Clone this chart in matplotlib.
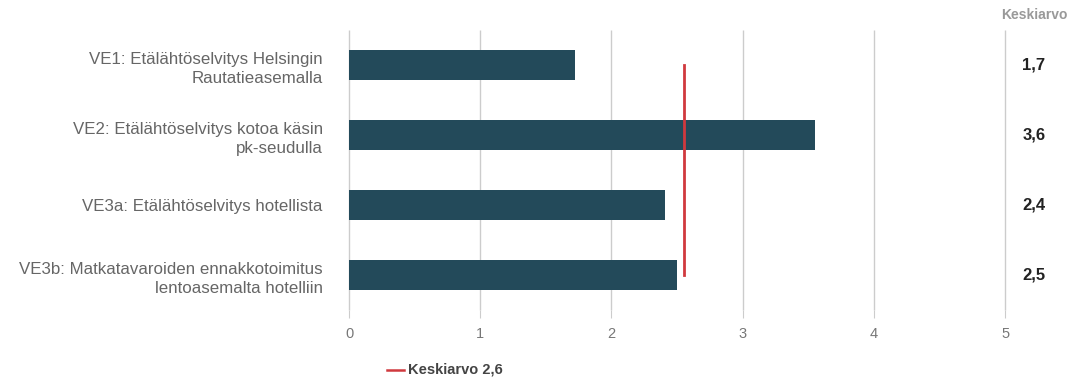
import matplotlib
matplotlib.use('Agg')
import matplotlib.pyplot as plt
import matplotlib.transforms as mtransforms
from matplotlib.lines import Line2D

plt.rcParams['font.family'] = ['Liberation Sans', 'DejaVu Sans']

categories = [
    'VE1: Etälähtöselvitys Helsingin\nRautatieasemalla',
    'VE2: Etälähtöselvitys kotoa käsin\npk-seudulla',
    'VE3a: Etälähtöselvitys hotellista',
    'VE3b: Matkatavaroiden ennakkotoimitus\nlentoasemalta hotelliin',
]
values = [1.72, 3.55, 2.41, 2.50]
value_labels = ['1,7', '3,6', '2,4', '2,5']
average = 2.55
average_label = 'Keskiarvo 2,6'
x_ticks = [0, 1, 2, 3, 4, 5]

bar_color = '#234a5a'
red = '#d0393e'
grid_color = '#cccccc'

fig = plt.figure(figsize=(10.85, 3.8), dpi=100)
ax = fig.add_axes([0.3217, 0.1842, 0.6046, 0.7368])

pos = list(range(len(categories)))
ax.vlines(x_ticks, 3.5, -0.5, color=grid_color, linewidth=1, zorder=0, clip_on=False)
ax.barh(pos, values, height=0.43, color=bar_color, zorder=2)
ax.plot([average, average], [pos[0], pos[-1]], color=red, linewidth=2, zorder=3)

ax.set_xlim(0, 5)
ax.set_ylim(3.5, -0.5)
ax.set_xticks(x_ticks)
ax.set_xticklabels([str(t) for t in x_ticks], color='#777777', fontsize=10.5)
ax.set_yticks(pos)
ax.set_yticklabels(categories, color='#666666', fontsize=12.2, linespacing=1.35)
ax.tick_params(axis='y', length=0, pad=19)
ax.tick_params(axis='x', length=6, color=grid_color, pad=6)
for s in ax.spines.values():
    s.set_visible(False)

# right-hand value column
trans = mtransforms.blended_transform_factory(fig.transFigure, ax.transData)
for p, lab in zip(pos, value_labels):
    ax.text(1034 / 1085, p, lab, transform=trans, ha='center', va='center',
            fontsize=12, fontweight='bold', color='#222222')
fig.text(1034 / 1085, 1 - 15 / 380, 'Keskiarvo', ha='center', va='center',
         fontsize=10, fontweight='bold', color='#999999')

# legend
fig.add_artist(Line2D([387 / 1085, 404 / 1085], [1 - 370 / 380] * 2, color=red, linewidth=1.8))
fig.text(408 / 1085, 1 - 370 / 380, average_label, ha='left', va='center',
         fontsize=10.5, fontweight='bold', color='#444444')

fig.savefig('out.png', dpi=100)
